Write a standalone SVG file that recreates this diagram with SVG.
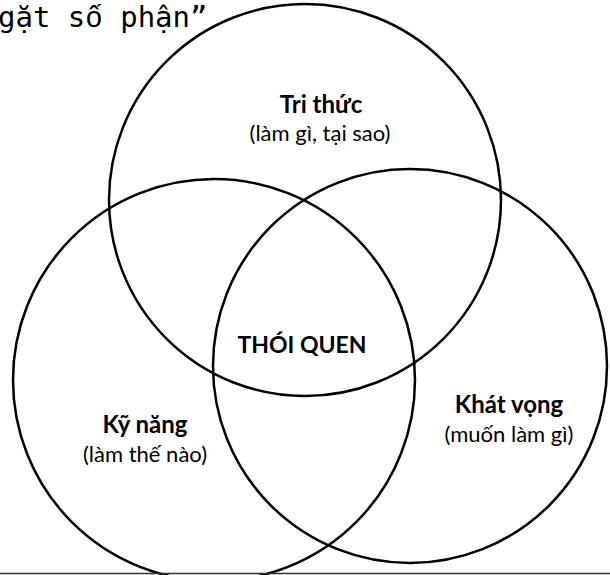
<svg xmlns="http://www.w3.org/2000/svg" width="610" height="575" viewBox="0 0 610 575">
<style>
.c{fill:none;stroke:#000;stroke-width:2.5}
.b{font-family:Lato,"Open Sans","Liberation Sans",sans-serif;font-weight:bold;font-size:24px;fill:#000;text-anchor:middle}
.r{font-family:Lato,"Open Sans","Liberation Sans",sans-serif;font-size:22px;fill:#000;text-anchor:middle}
.m{font-family:"DejaVu Sans Mono","Liberation Mono",monospace;font-size:29px;fill:#000}
.alt{font-family:"Liberation Mono",monospace}
</style>
<rect width="610" height="575" fill="#fff"/>
<text class="m" x="-2" y="27">gặt s<tspan class="alt">ố</tspan> phận”</text>
<g id="connectors"></g>
<g id="tri-thuc">
<circle class="c" cx="305" cy="200" r="196"/>
<text class="b" x="321" y="113">Tri thức</text>
<text class="r" x="320" y="141">(làm gì, tại sao)</text>
</g>
<g id="ky-nang">
<circle class="c" cx="214" cy="380" r="201"/>
<text class="b" x="145" y="433">Kỹ năng</text>
<text class="r" x="145" y="462">(làm thế nào)</text>
</g>
<g id="khat-vong">
<circle class="c" cx="410" cy="366" r="197"/>
<text class="b" x="509" y="413">Khát vọng</text>
<text class="r" x="509" y="442">(muốn làm gì)</text>
</g>
<g id="thoi-quen">
<text class="b" x="302" y="353" style="font-size:23px">THÓI QUEN</text>
</g>
<line x1="0" y1="573.5" x2="610" y2="573.5" stroke="#333" stroke-width="1.5"/>
</svg>
